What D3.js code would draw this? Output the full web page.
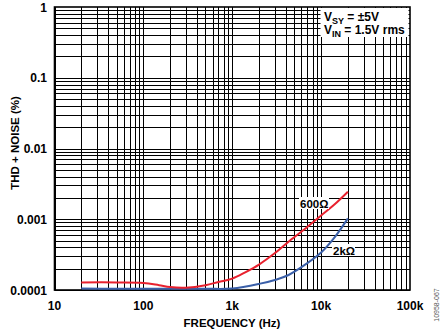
<!DOCTYPE html>
<html><head><meta charset="utf-8">
<script src="https://cdn.jsdelivr.net/npm/d3@7"></script>
<style>body{margin:0;background:#fff}svg{display:block}text{font-family:"Liberation Sans",Arial,sans-serif}</style>
</head><body><svg id="c" width="446" height="332"></svg>
<script>
const xTicks = [10, 100, 1000, 10000, 100000];
const xTickLabels = ["10", "100", "1k", "10k", "100k"];
const yTicks = [0.0001, 0.001, 0.01, 0.1, 1];
const yTickLabels = ["0.0001", "0.001", "0.01", "0.1", "1"];
const freq600 = [20, 50, 100, 150, 200, 300, 500, 700, 1000, 1400, 2000, 3000, 4300, 6500, 10000, 14000, 20000];
const thd600 = [0.000128, 0.000128, 0.000126, 0.000117, 0.000110, 0.000108, 0.000117, 0.000130, 0.000145, 0.000178, 0.000229, 0.00033, 0.000482, 0.00072, 0.00113, 0.0016, 0.00245];
const freq2k = [20, 50, 100, 200, 500, 1000, 2000, 3160, 4300, 6300, 10000, 14100, 20000];
const thd2k = [0.000105, 0.000104, 0.000104, 0.000104, 0.000104, 0.000105, 0.000122, 0.000141, 0.000163, 0.000219, 0.000339, 0.00055, 0.00103];
const seriesNames = ["600Ω", "2kΩ"];

const svg = d3.select("#c");
const L = 54.5, R = 410, T = 7, B = 290;
const x = d3.scaleLog().domain([10, 100000]).range([L, R]);
const y = d3.scaleLog().domain([0.0001, 1]).range([B, T]);

// grid
const xMinor = [];
for (let d = 10; d < 100000; d *= 10) for (let k = 1; k <= 9; k++) xMinor.push(d * k);
const yMinor = [];
for (let d = 0.0001; d < 0.99; d *= 10) for (let k = 1; k <= 9; k++) yMinor.push(d * k);
const g = svg.append("g");
g.selectAll("line.v").data(xMinor).join("line")
  .attr("x1", d => Math.round(x(d)) + 0.5).attr("x2", d => Math.round(x(d)) + 0.5)
  .attr("y1", T).attr("y2", B).attr("stroke", "#000").attr("stroke-width", 1);
g.selectAll("line.h").data(yMinor).join("line")
  .attr("y1", d => Math.round(y(d)) + 0.5).attr("y2", d => Math.round(y(d)) + 0.5)
  .attr("x1", L).attr("x2", R).attr("stroke", "#000").attr("stroke-width", 1);
svg.append("rect").attr("x", L).attr("y", T).attr("width", R - L).attr("height", B - T)
  .attr("fill", "none").attr("stroke", "#000").attr("stroke-width", 1.6);

// legend box
svg.append("rect").attr("x", 320.5).attr("y", 8).attr("width", 88).attr("height", 29).attr("fill", "#fff");
const t1 = svg.append("text").attr("x", 324).attr("y", 21).attr("font-size", 12).attr("font-weight", "bold");
t1.append("tspan").text("V");
t1.append("tspan").attr("font-size", 9).attr("dy", 3).text("SY");
t1.append("tspan").attr("dy", -3).text(" = ±5V");
const t2 = svg.append("text").attr("x", 324).attr("y", 34).attr("font-size", 12).attr("font-weight", "bold");
t2.append("tspan").text("V");
t2.append("tspan").attr("font-size", 9).attr("dy", 3).text("IN");
t2.append("tspan").attr("dy", -3).text(" = 1.5V rms");

// curves
const line = d3.line().x(d => x(d[0])).y(d => y(d[1])).curve(d3.curveCatmullRom.alpha(0.5));
svg.append("path").datum(freq2k.map((f, i) => [f, thd2k[i]])).attr("d", line)
  .attr("fill", "none").attr("stroke", "#3a5fa8").attr("stroke-width", 2);
svg.append("path").datum(freq600.map((f, i) => [f, thd600[i]])).attr("d", line)
  .attr("fill", "none").attr("stroke", "#e8212e").attr("stroke-width", 2);

// series labels
svg.append("rect").attr("x", 299).attr("y", 197).attr("width", 30).attr("height", 12).attr("fill", "#fff");
svg.append("text").attr("x", 300).attr("y", 207.5).attr("font-size", 11.5).attr("font-weight", "bold").text(seriesNames[0]);
svg.append("rect").attr("x", 332).attr("y", 244).attr("width", 23).attr("height", 12).attr("fill", "#fff");
svg.append("text").attr("x", 333).attr("y", 254.5).attr("font-size", 11.5).attr("font-weight", "bold").text(seriesNames[1]);

// axes labels
svg.selectAll("text.xt").data(xTicks).join("text").attr("class", "xt")
  .attr("x", d => x(d)).attr("y", 310).attr("text-anchor", "middle")
  .attr("font-size", 12).attr("font-weight", "bold").text((d, i) => xTickLabels[i]);
svg.selectAll("text.yt").data(yTicks).join("text").attr("class", "yt")
  .attr("x", 47).attr("y", d => y(d) + 4.5).attr("text-anchor", "end")
  .attr("font-size", 12).attr("font-weight", "bold").text((d, i) => yTickLabels[i]);

svg.append("text").attr("x", 232).attr("y", 327).attr("text-anchor", "middle")
  .attr("font-size", 11.5).attr("font-weight", "bold").text("FREQUENCY (Hz)");
svg.append("text").attr("transform", "translate(18.5,143) rotate(-90)").attr("text-anchor", "middle")
  .attr("font-size", 11.5).attr("font-weight", "bold").text("THD + NOISE (%)");
svg.append("text").attr("transform", "translate(439,305) rotate(-90)").attr("text-anchor", "middle")
  .attr("font-size", 7).attr("fill", "#555").text("10958-067");
</script></body></html>
